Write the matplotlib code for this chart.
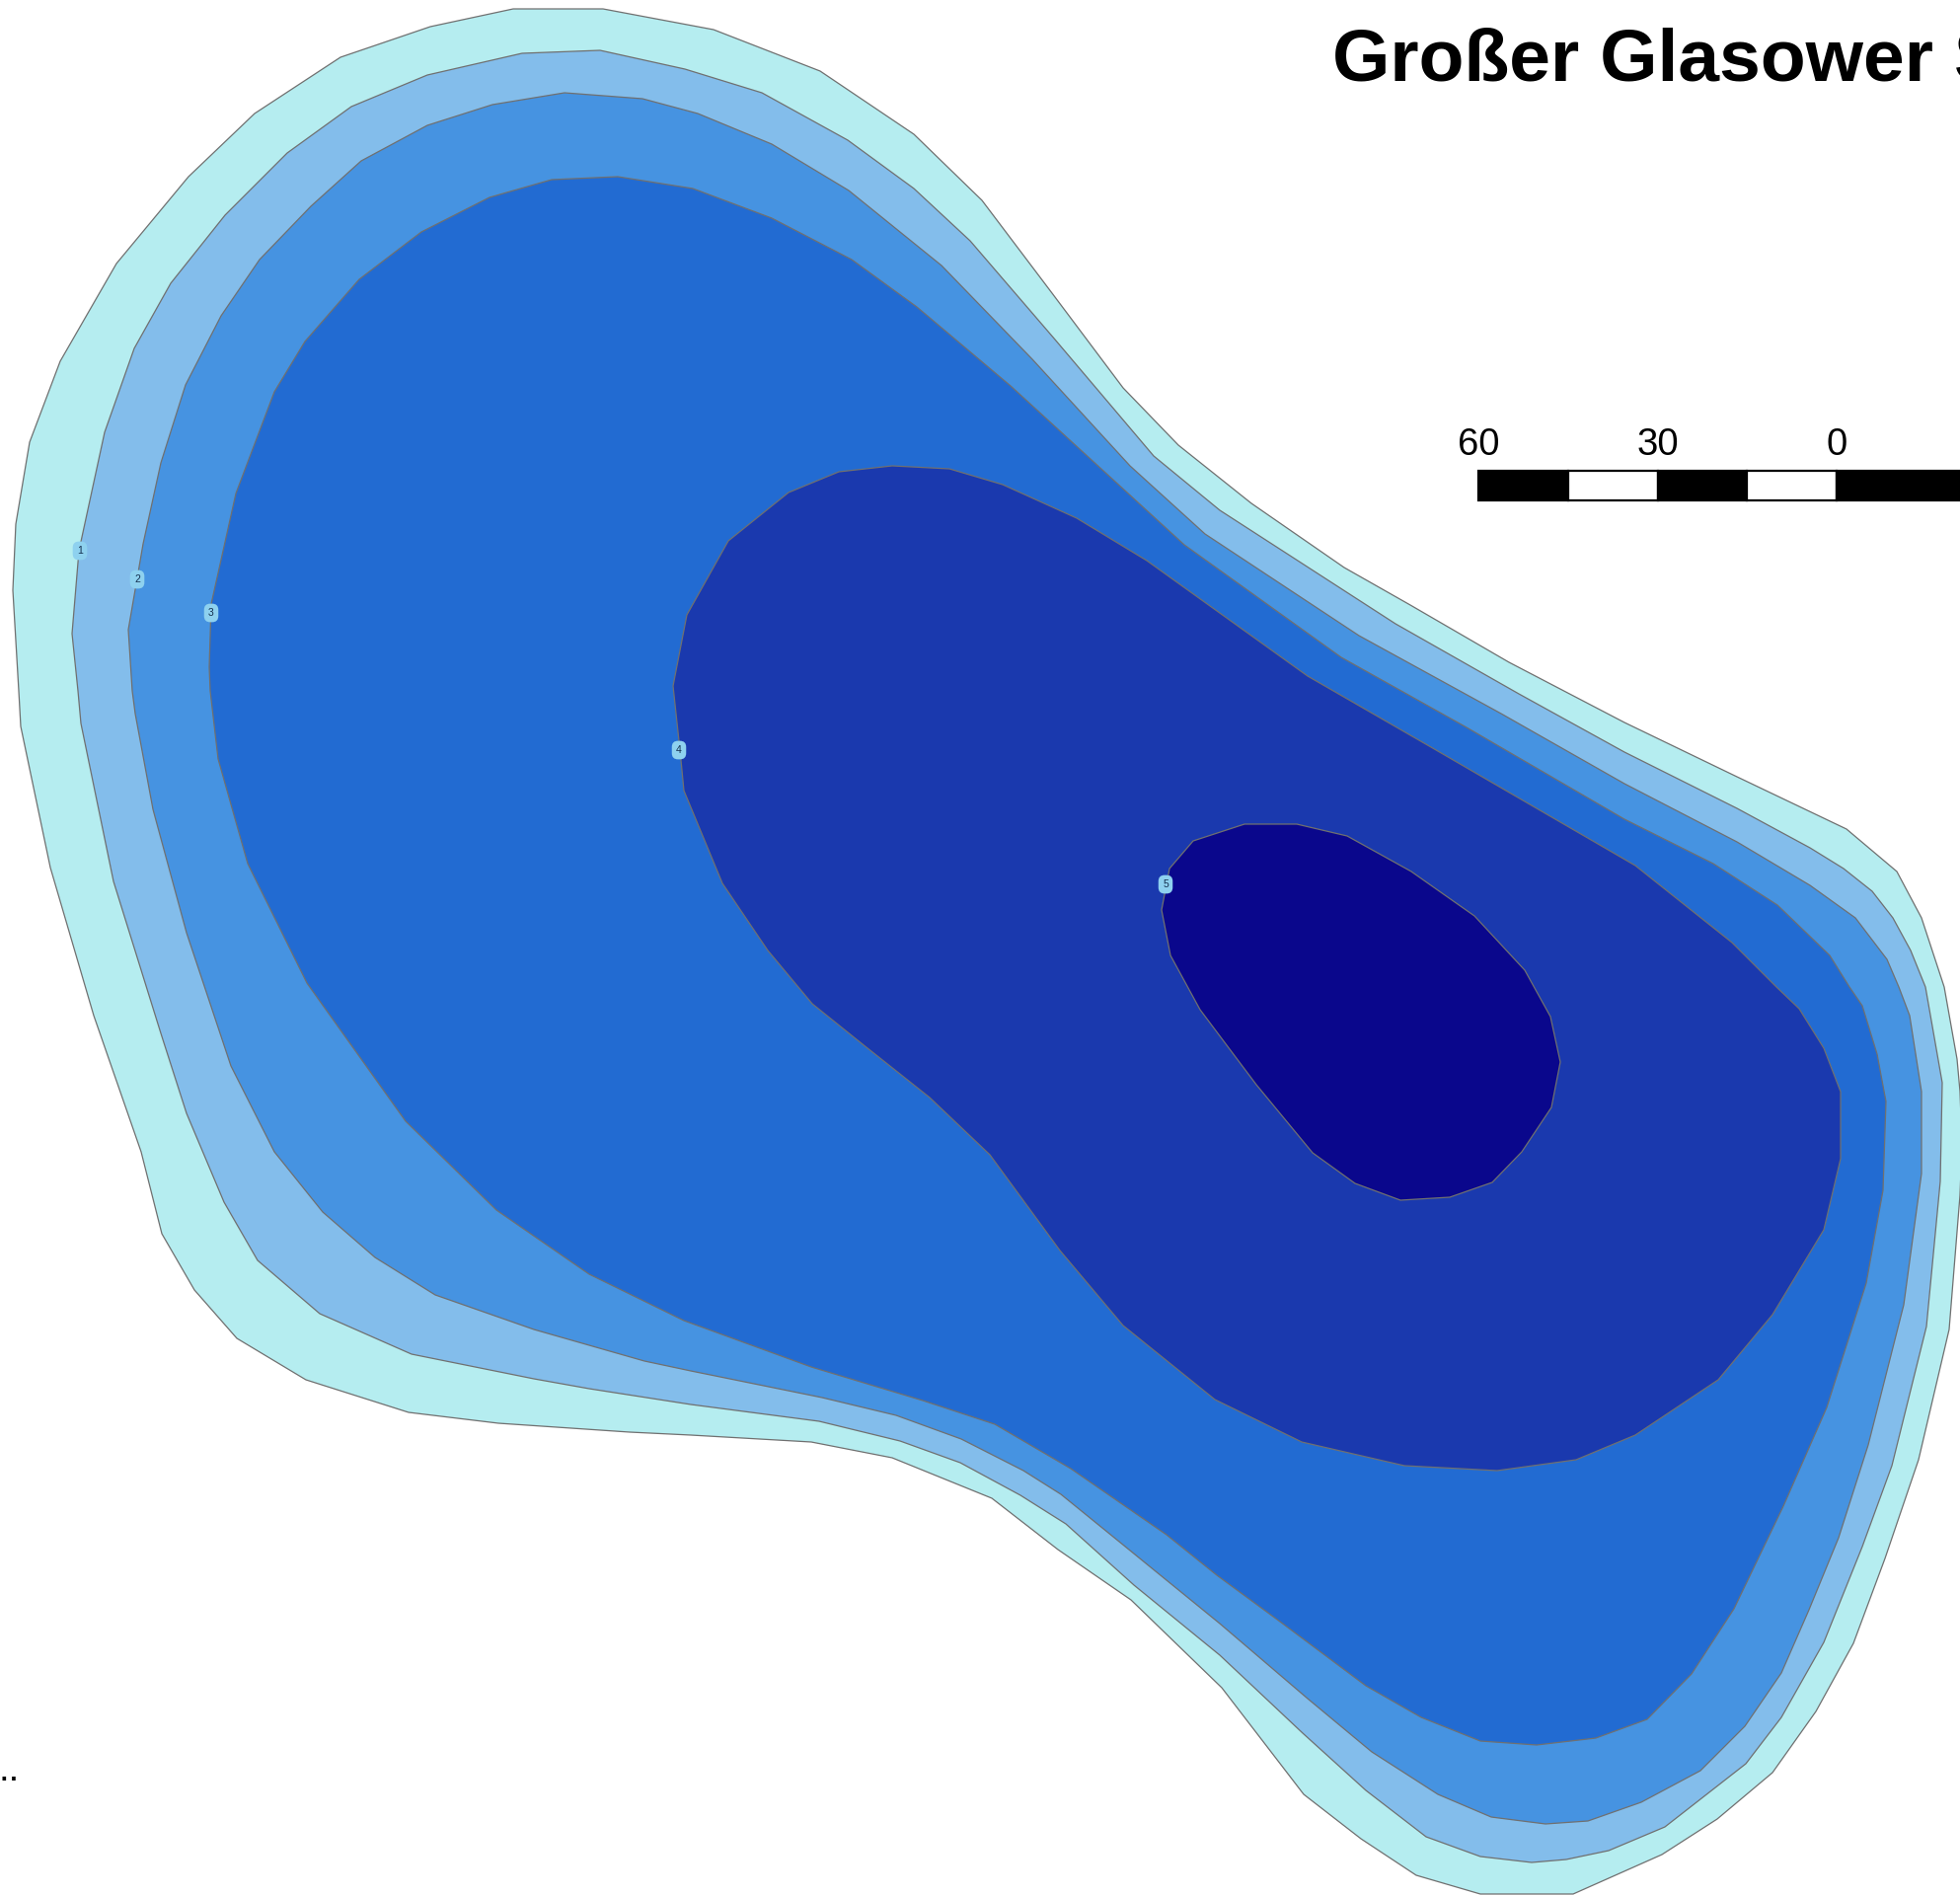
import matplotlib
matplotlib.use("Agg")
import matplotlib.pyplot as plt
from matplotlib.patches import Polygon, Rectangle

plt.rcParams['font.family'] = ['Liberation Sans', 'DejaVu Sans']

title_text = "Großer Glasower See"
scale_labels = [60, 30, 0]
depth_labels = ["1", "2", "3", "4", "5"]
depth_label_x = [81, 139, 214, 688, 1181]
depth_label_y = [558, 587, 621, 760, 896]

contour_1 = [(520,9),(611,9),(723,30),(831,72),(926,136),(995,203),(1066,297),(1138,393),(1194,451),(1268,510),
             (1362,575),(1429,613),(1529,671),(1646,732),(1760,787),(1871,840),(1922,883),(1947,930),(1970,1000),
             (1983,1073),(1986,1106),(1988,1160),(1986,1211),(1975,1347),(1944,1479),(1910,1579),(1878,1665),
             (1840,1734),(1796,1796),(1740,1843),(1684,1879),(1594,1919),(1500,1919),(1435,1900),(1379,1863),
             (1321,1818),(1238,1710),(1146,1621),(1072,1570),(1005,1518),(904,1477),(822,1461),(700,1454),
             (638,1451),(505,1442),(414,1431),(310,1398),(240,1356),(197,1307),(164,1250),(143,1167),(95,1029),
             (51,879),(21,736),(19,700),(13,598),(16,531),(30,448),(61,366),(118,267),(191,179),(258,115),
             (345,58),(436,27)]
contour_2 = [(529,54),(608,51),(694,70),(772,94),(859,142),(926,191),(983,244),(1069,344),(1169,462),(1236,517),
             (1414,632),(1539,703),(1646,762),(1760,819),(1834,859),(1868,880),(1897,903),(1918,930),
             (1936,963),(1951,1000),(1968,1097),(1966,1197),(1952,1344),(1917,1485),(1887,1567),(1848,1664),
             (1805,1740),(1769,1787),(1687,1851),(1630,1875),(1587,1884),(1552,1887),(1500,1881),(1445,1861),
             (1384,1814),(1320,1756),(1236,1677),(1149,1606),(1080,1544),(1034,1515),(973,1482),(912,1460),
             (830,1440),(700,1423),(597,1407),(541,1397),(417,1372),(324,1331),(261,1277),(227,1218),(189,1128),
             (163,1047),(115,893),(82,733),(79,700),(73,642),(80,558),(106,438),(136,353),(173,287),(228,218),
             (291,155),(356,108),(433,76)]
contour_3 = [(572,94),(651,100),(707,115),(782,146),(860,193),(954,269),(1046,364),(1145,472),(1221,541),
             (1377,644),(1521,723),(1646,794),(1760,853),(1834,897),(1880,930),(1912,972),(1924,1000),
             (1935,1029),(1947,1106),(1947,1189),(1929,1322),(1893,1464),(1863,1558),(1833,1631),(1805,1695),
             (1768,1749),(1723,1794),(1663,1826),(1609,1845),(1566,1848),(1511,1841),(1457,1818),(1390,1775),
             (1325,1721),(1236,1645),(1139,1566),(1075,1514),(1037,1490),(974,1458),(908,1434),(833,1416),
             (700,1389),(653,1379),(541,1347),(441,1312),(380,1274),(327,1228),(278,1167),(234,1080),(189,945),
             (155,820),(137,723),(134,700),(130,638),(145,551),(163,469),(188,390),(224,320),(263,263),(315,209),
             (366,163),(433,127),(499,106)]
contour_4 = [(559,182),(626,179),(702,191),(782,221),(863,263),(929,311),(1024,391),(1200,552),(1359,666),
             (1486,737),(1646,830),(1736,875),(1801,917),(1854,968),(1874,1000),(1887,1019),(1902,1068),
             (1911,1116),(1908,1206),(1891,1300),(1851,1426),(1807,1526),(1757,1630),(1714,1696),(1669,1742),
             (1617,1761),(1557,1768),(1500,1764),(1440,1740),(1384,1708),(1297,1643),(1233,1596),(1182,1555),
             (1085,1488),(1008,1443),(935,1419),(822,1385),(693,1338),(597,1291),(503,1226),(411,1136),(311,996),
             (251,875),(221,769),(213,700),(212,676),(214,612),(239,500),(278,397),(309,346),(364,283),(427,235),(496,200)]
contour_5 = [(682,695),(696,623),(738,548),(799,499),(850,478),(904,472),(962,475),(1016,491),(1091,525),(1162,568),
             (1325,685),(1450,757),(1657,877),(1755,955),(1800,1000),(1823,1022),(1848,1062),(1865,1106),
             (1865,1174),(1848,1246),(1796,1332),(1741,1398),(1657,1454),(1597,1479),(1517,1490),(1423,1485),
             (1319,1461),(1231,1418),(1138,1343),(1074,1267),(1003,1170),(942,1112),(874,1058),(823,1017),(778,963),
             (732,895),(693,801),(689,760)]
contour_6 = [(1261,835),(1314,835),(1365,847),(1430,883),(1494,928),(1545,983),(1571,1030),(1581,1076),(1572,1122),
             (1542,1167),(1512,1198),(1469,1213),(1419,1216),(1373,1199),(1330,1168),(1273,1099),(1216,1023),
             (1186,968),(1177,922),(1185,880),(1209,852)]
contours = [contour_1, contour_2, contour_3, contour_4, contour_5, contour_6]
fill_colors = ["#B5EDF0", "#83BDEB", "#4693E1", "#226BD2", "#1A39AE", "#0A078C"]

fig = plt.figure(figsize=(19.86, 19.21), dpi=100, facecolor="white")
ax = fig.add_axes([0, 0, 1, 1])
ax.set_xlim(0, 1986)
ax.set_ylim(1921, 0)
ax.axis("off")

for pts, col in zip(contours, fill_colors):
    ax.add_patch(Polygon(pts, closed=True, facecolor=col, edgecolor="#707070", linewidth=0.9, zorder=2))

for lab, x, y in zip(depth_labels, depth_label_x, depth_label_y):
    ax.text(x, y, lab, ha="center", va="center", fontsize=7.5, color="#14304F", zorder=5,
            bbox=dict(boxstyle="round,pad=0.42,rounding_size=0.6", fc="#8ED1EF", ec="none"))

ax.text(1350, 81, title_text, fontsize=54, fontweight="bold", color="black", ha="left", va="baseline", zorder=6)

# scale bar: 30 units span 181.5 px; 15-unit tiles, the black tile right of 0 runs off the page
bar_x0, px_per_unit, bar_top, bar_h = 1498, 181.5 / 30, 477, 30
tile = 15
for i in range(5):
    v = scale_labels[0] - i * tile
    x = bar_x0 + (scale_labels[0] - v) * px_per_unit
    w = tile * px_per_unit * (2 if i == 4 else 1)
    ax.add_patch(Rectangle((x, bar_top), w, bar_h,
                           facecolor="black" if i % 2 == 0 else "white",
                           edgecolor="black", linewidth=1.6, zorder=6))
for v in scale_labels:
    ax.text(bar_x0 + (scale_labels[0] - v) * px_per_unit, 461, str(v), fontsize=27.5, color="black",
            ha="center", va="baseline", zorder=6)

ax.text(-2, 1804, "..", fontsize=27.5, color="black", ha="left", va="baseline", zorder=6)

fig.savefig("out.png", dpi=100, facecolor="white")
